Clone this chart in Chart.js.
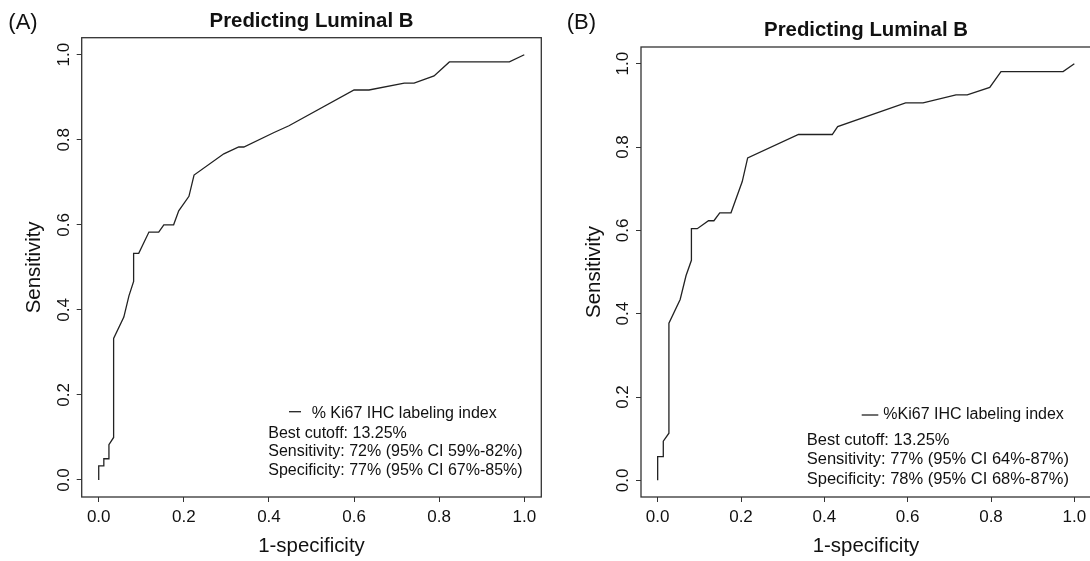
<!DOCTYPE html>
<html>
<head>
<meta charset="utf-8">
<script src="https://cdn.jsdelivr.net/npm/chart.js@4.4.1/dist/chart.umd.min.js"></script>
<style>
  html, body { margin: 0; padding: 0; background: #fff; width: 1090px; height: 561px; overflow: hidden; }
  .panel { position: absolute; top: 0; height: 561px; }
  #wrapA { left: 0; width: 550px; }
  #wrapB { left: 546px; width: 546px; }
</style>
</head>
<body>
<div class="panel" id="wrapA"><canvas id="rocA" width="550" height="561"></canvas></div>
<div class="panel" id="wrapB"><canvas id="rocB" width="546" height="561"></canvas></div>
<script>
// ---- data ----
const axisTicks = [0, 0.2, 0.4, 0.6, 0.8, 1.0];
const tickLabels = ['0.0', '0.2', '0.4', '0.6', '0.8', '1.0'];

// (A) ROC curve: 1-specificity / sensitivity
const fprA = [0, 0, 0.012, 0.012, 0.024, 0.024, 0.035, 0.035, 0.059, 0.071, 0.082, 0.082, 0.094,
  0.118, 0.141, 0.153, 0.176, 0.188, 0.212, 0.224, 0.294, 0.329, 0.341, 0.412, 0.447, 0.600,
  0.635, 0.718, 0.741, 0.788, 0.824, 0.965, 1.0];
const tprA = [0, 0.033, 0.033, 0.05, 0.05, 0.083, 0.1, 0.333, 0.383, 0.433, 0.467, 0.533, 0.533,
  0.583, 0.583, 0.6, 0.6, 0.633, 0.667, 0.717, 0.767, 0.783, 0.783, 0.817, 0.833, 0.917,
  0.917, 0.933, 0.933, 0.95, 0.983, 0.983, 1.0];

// (B) ROC curve
const fprB = [0, 0, 0.0135, 0.0135, 0.027, 0.027, 0.054, 0.068, 0.081, 0.081, 0.095, 0.122, 0.135,
  0.149, 0.176, 0.203, 0.216, 0.338, 0.419, 0.432, 0.595, 0.637, 0.716, 0.743, 0.797, 0.824,
  0.973, 1.0];
const tprB = [0, 0.057, 0.057, 0.094, 0.113, 0.377, 0.434, 0.491, 0.528, 0.604, 0.604, 0.623, 0.623,
  0.642, 0.642, 0.717, 0.774, 0.830, 0.830, 0.849, 0.906, 0.906, 0.925, 0.925, 0.943, 0.981,
  0.981, 1.0];

const titleText = 'Predicting Luminal B';
const legendA = '% Ki67 IHC labeling index';
const legendB = '%Ki67 IHC labeling index';
const statsA = ['Best cutoff: 13.25%', 'Sensitivity: 72% (95% CI 59%-82%)', 'Specificity: 77% (95% CI 67%-85%)'];
const statsB = ['Best cutoff: 13.25%', 'Sensitivity: 77% (95% CI 64%-87%)', 'Specificity: 78% (95% CI 68%-87%)'];

// ---- rendering ----
const FONT = "'Liberation Sans', Arial, Helvetica, sans-serif";
Chart.defaults.font.family = FONT;
Chart.defaults.color = '#111';

// draws the R-style box, rotated y tick labels, title, tag and the legend/stats text
function decorPlugin(p) {
  return {
    id: 'rocDecor',
    afterDraw(chart) {
      const { ctx, chartArea: a, scales: { y } } = chart;
      ctx.save();
      ctx.strokeStyle = '#333';
      ctx.lineWidth = 1.3;
      ctx.strokeRect(a.left, a.top, a.right - a.left, a.bottom - a.top);

      ctx.fillStyle = '#111';
      ctx.font = `17px ${FONT}`;
      ctx.textAlign = 'center';
      ctx.textBaseline = 'alphabetic';
      axisTicks.forEach((v, i) => {
        ctx.save();
        ctx.translate(a.left - 13, y.getPixelForValue(v));
        ctx.rotate(-Math.PI / 2);
        ctx.fillText(tickLabels[i], 0, 0);
        ctx.restore();
      });

      ctx.font = `bold 20.4px ${FONT}`;
      ctx.fillText(titleText, (a.left + a.right) / 2, p.titleY);

      ctx.textAlign = 'left';
      ctx.font = `22px ${FONT}`;
      ctx.fillText(p.tag, p.tagX, 29.3);

      // legend entry
      ctx.beginPath();
      ctx.lineWidth = 1.3;
      ctx.strokeStyle = '#222';
      ctx.moveTo(p.dash[0], p.dash[2]);
      ctx.lineTo(p.dash[1], p.dash[2]);
      ctx.stroke();
      ctx.font = `16px ${FONT}`;
      ctx.fillText(p.legend, p.legendX, p.legendY);

      ctx.font = `${p.statsSize}px ${FONT}`;
      p.stats.forEach((s, i) => ctx.fillText(s, p.statsX, p.statsY[i]));
      ctx.restore();
    }
  };
}

function makeRoc(canvasId, fpr, tpr, p) {
  const points = fpr.map((x, i) => ({ x, y: tpr[i] }));
  const tickGrid = { drawOnChartArea: false, drawTicks: true, tickLength: 5, color: '#333', lineWidth: 1 };
  return new Chart(document.getElementById(canvasId), {
    type: 'line',
    data: {
      datasets: [{
        data: points,
        borderColor: '#222',
        borderWidth: 1.3,
        pointRadius: 0,
        tension: 0,
        fill: false
      }]
    },
    options: {
      responsive: false,
      animation: false,
      events: [],
      layout: { padding: { top: p.padTop, right: p.padRight, bottom: 0, left: 0 } },
      plugins: { legend: { display: false }, tooltip: { enabled: false } },
      scales: {
        x: {
          type: 'linear',
          min: -0.04,
          max: 1.04,
          afterBuildTicks: (s) => { s.ticks = axisTicks.map(v => ({ value: v })); },
          afterFit: (s) => { s.height = 64; },
          grid: tickGrid,
          border: { display: false },
          ticks: {
            font: { size: 17 },
            color: '#111',
            padding: 5.3,
            maxRotation: 0,
            autoSkip: false,
            callback: (v, i) => tickLabels[i]
          },
          title: { display: true, text: '1-specificity', color: '#111', font: { size: 20.4 }, padding: { top: 0, bottom: 2 } }
        },
        y: {
          type: 'linear',
          min: -0.04,
          max: 1.04,
          afterBuildTicks: (s) => { s.ticks = axisTicks.map(v => ({ value: v })); },
          afterFit: (s) => { s.width = p.yWidth; },
          grid: tickGrid,
          border: { display: false },
          ticks: { display: false },
          title: { display: true, text: 'Sensitivity', color: '#111', font: { size: 20.4 }, padding: { top: p.yTitlePad, bottom: 0 } }
        }
      }
    },
    plugins: [decorPlugin(p)]
  });
}

makeRoc('rocA', fprA, tprA, {
  padTop: 37.7, padRight: 8.7, yWidth: 81.7, yTitlePad: 22.6,
  titleY: 27, tag: '(A)', tagX: 8.3,
  dash: [289, 301, 411.7], legend: legendA, legendX: 311.7, legendY: 417.5,
  stats: statsA, statsSize: 16, statsX: 268.3, statsY: [437.5, 456.3, 475.2]
});

makeRoc('rocB', fprB, tprB, {
  padTop: 47, padRight: 1, yWidth: 95, yTitlePad: 35.9,
  titleY: 36.3, tag: '(B)', tagX: 20.7,
  dash: [315.7, 332.3, 415], legend: legendB, legendX: 337.3, legendY: 419.2,
  stats: statsB, statsSize: 16.5, statsX: 260.7, statsY: [445.1, 464.1, 483.5]
});
</script>
</body>
</html>
